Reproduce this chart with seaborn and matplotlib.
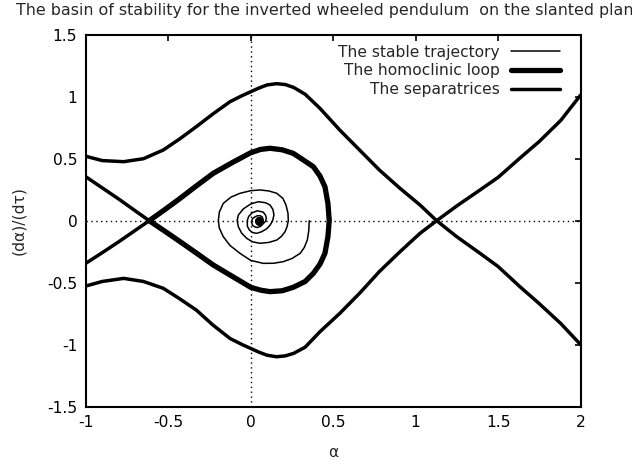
import numpy as np
import pandas as pd
import seaborn as sns
import matplotlib
matplotlib.use("Agg")
import matplotlib.pyplot as plt

# values
# outer separatrix coming from the upper left, through the right saddle
upper_a = [-1.0, -0.9, -0.77, -0.65, -0.53, -0.43, -0.33, -0.23, -0.125, -0.05, 0.0, 0.05,
           0.1, 0.157, 0.21, 0.26, 0.33, 0.42, 0.54, 0.66, 0.78, 0.905, 1.026, 1.127, 1.25,
           1.39, 1.5, 1.63, 1.75, 1.88, 2.0]
upper_v = [0.52, 0.485, 0.476, 0.5, 0.57, 0.66, 0.758, 0.86, 0.96, 1.01, 1.04, 1.07,
           1.095, 1.105, 1.098, 1.075, 1.02, 0.906, 0.731, 0.57, 0.409, 0.261, 0.127, 0.0,
           -0.13, -0.263, -0.37, -0.53, -0.67, -0.83, -1.0]
# outer separatrix coming from the lower left, through the right saddle
lower_a = upper_a
lower_v = [-0.527, -0.49, -0.465, -0.49, -0.545, -0.63, -0.72, -0.84, -0.95, -1.0, -1.03,
           -1.06, -1.085, -1.097, -1.09, -1.07, -1.02, -0.895, -0.747, -0.585, -0.41, -0.25,
           -0.102, 0.0, 0.12, 0.248, 0.35, 0.503, 0.64, 0.81, 1.014]
# short separatrices into the left saddle
left_a = [-1.0, -0.9, -0.8, -0.7, -0.615]
left_up_v = [0.355, 0.265, 0.175, 0.08, 0.0]
left_down_v = [-0.344, -0.258, -0.17, -0.078, 0.0]

# homoclinic loop of the left saddle
loop_a = [-0.615, -0.52, -0.428, -0.33, -0.227, -0.11, 0.0, 0.06, 0.117, 0.19, 0.258, 0.33,
          0.38, 0.42, 0.45, 0.468, 0.476, 0.468, 0.45, 0.42, 0.38, 0.33, 0.258, 0.19, 0.117,
          0.06, 0.0, -0.11, -0.227, -0.33, -0.428, -0.52, -0.615]
loop_v = [0.0, 0.09, 0.18, 0.28, 0.382, 0.47, 0.548, 0.575, 0.584, 0.572, 0.543, 0.48,
          0.435, 0.36, 0.274, 0.14, 0.0, -0.13, -0.263, -0.35, -0.424, -0.49, -0.537, -0.565,
          -0.572, -0.56, -0.537, -0.45, -0.357, -0.26, -0.169, -0.085, 0.0]

# stable trajectory spiralling into the focus
stable_a = [0.355, 0.352, 0.343, 0.325, 0.300, 0.25, 0.198, 0.14, 0.077, 0.0, -0.065, -0.125,
            -0.166, -0.19, -0.196, -0.19, -0.166, -0.12, -0.065, 0.0, 0.056, 0.11, 0.158,
            0.195, 0.214, 0.226, 0.228, 0.22, 0.208, 0.185, 0.158, 0.11, 0.056, 0.01, -0.024,
            -0.055, -0.075, -0.082, -0.075, -0.045, 0.0, 0.046, 0.09, 0.117, 0.135, 0.141,
            0.133, 0.118, 0.097, 0.066, 0.036, 0.01, -0.008, -0.02, -0.021, -0.012, 0.010,
            0.040, 0.075, 0.090, 0.095, 0.090, 0.075, 0.060, 0.040, 0.025, 0.010, 0.005,
            0.010, 0.025, 0.040, 0.058, 0.070, 0.075, 0.070, 0.055, 0.040, 0.035, 0.030,
            0.035, 0.045, 0.055, 0.060, 0.055, 0.048]
stable_v = [0.0, -0.08, -0.156, -0.215, -0.263, -0.305, -0.330, -0.343, -0.344, -0.32,
            -0.263, -0.2, -0.129, -0.06, 0.0, 0.07, 0.140, 0.19, 0.221, 0.242, 0.248, 0.24,
            0.221, 0.18, 0.127, 0.06, 0.0, -0.05, -0.089, -0.128, -0.156, -0.175, -0.182,
            -0.17, -0.142, -0.1, -0.048, 0.0, 0.045, 0.095, 0.135, 0.153, 0.145, 0.127, 0.09,
            0.046, 0.0, -0.035, -0.065, -0.089, -0.102, -0.095, -0.075, -0.045, 0.0, 0.035,
            0.065, 0.080, 0.070, 0.045, 0.020, -0.005, -0.025, -0.045, -0.055, -0.05, -0.035,
            -0.010, 0.015, 0.030, 0.040, 0.040, 0.030, 0.010, -0.010, -0.025, -0.022, -0.015,
            0.0, 0.012, 0.025, 0.022, 0.012, -0.008, 0.0]

xticks = [-1, -0.5, 0, 0.5, 1, 1.5, 2]
yticks = [-1.5, -1, -0.5, 0, 0.5, 1, 1.5]

sns.set_theme(style="white")
plt.rcParams['font.family'] = ['DejaVu Sans']
FS = 11.2

fig = plt.figure(figsize=(6.32, 4.69), dpi=100)
ax = fig.add_axes([0.1356, 0.1328, 0.7832, 0.7932])

# zero axes, dotted
ax.axhline(0, color="black", lw=1, ls=(0, (1, 2.5)), zorder=1)
ax.axvline(0, color="black", lw=1, ls=(0, (1, 2.5)), zorder=1)

kw = dict(sort=False, estimator=None, color="black", ax=ax)
sns.lineplot(x=stable_a, y=stable_v, lw=1.1, label="The stable trajectory", **kw)
sns.lineplot(x=loop_a, y=loop_v, lw=3.8, label="The homoclinic loop", **kw)
sns.lineplot(x=upper_a, y=upper_v, lw=2.5, label="The separatrices", **kw)
sns.lineplot(x=lower_a, y=lower_v, lw=2.5, **kw)
sns.lineplot(x=left_a, y=left_up_v, lw=2.5, **kw)
sns.lineplot(x=left_a, y=left_down_v, lw=2.5, **kw)
# the dark focus
ax.scatter([stable_a[-1]], [stable_v[-1]], s=30, color="black", zorder=5)

ax.set_xlim(-1, 2)
ax.set_ylim(-1.5, 1.5)
ax.set_xticks(xticks)
ax.set_xticklabels([f"{t:g}" for t in xticks])
ax.set_yticks(yticks)
ax.set_yticklabels([f"{t:g}" for t in yticks])
ax.tick_params(direction="in", length=4, width=1.2, top=True, right=True,
               labelsize=FS, colors="black", pad=6)
for s in ax.spines.values():
    s.set_visible(True)
    s.set_color("black")
    s.set_linewidth(1.5)

ax.set_xlabel("α", fontsize=FS, labelpad=11)
ax.set_ylabel("(dα)/(dτ)", fontsize=FS, labelpad=15)

leg = ax.legend(loc="upper right", bbox_to_anchor=(0.970, 0.99), frameon=False,
                markerfirst=False, handlelength=3.1, fontsize=FS, labelspacing=0.24,
                borderaxespad=0, handletextpad=0.75, borderpad=0.4)

fig.text(330 / 632, 1 - 10 / 469, "The basin of stability for the inverted wheeled pendulum  on the slanted plane",
         ha="center", va="center", fontsize=11.4)

fig.savefig("out.png", dpi=100)
